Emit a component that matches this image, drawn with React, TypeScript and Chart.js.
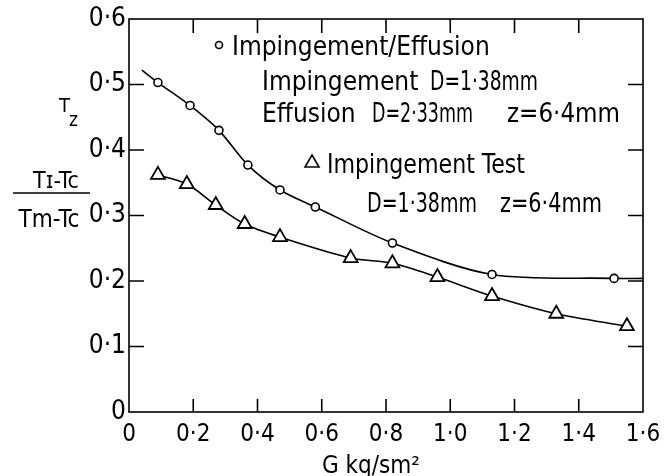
import React, { useEffect, useRef } from 'react';
import { Chart, registerables } from 'chart.js';

Chart.register(...registerables);

// ---- data ----
const xTicksMin = 0;
const xTicksMax = 1.6;
const xTickStep = 0.2;
const yTicksMin = 0;
const yTicksMax = 0.6;
const yTickStep = 0.1;

// Impingement/Effusion (circles); first and last entries are the drawn curve ends (no marker)
const effusionG = [0.04, 0.09, 0.19, 0.28, 0.37, 0.47, 0.58, 0.82, 1.13, 1.51, 1.6];
const effusionT = [0.522, 0.503, 0.468, 0.43, 0.377, 0.339, 0.313, 0.258, 0.21, 0.204, 0.204];
const effusionMarked = [false, true, true, true, true, true, true, true, true, true, false];

// Impingement Test (triangles)
const impingementG = [0.09, 0.18, 0.27, 0.36, 0.47, 0.69, 0.82, 0.96, 1.13, 1.33, 1.55];
const impingementT = [0.362, 0.348, 0.316, 0.287, 0.267, 0.235, 0.227, 0.206, 0.177, 0.15, 0.131];

const xTitle = 'G kq/sm²';
const legendCircleLabel = 'Impingement/Effusion';
const legendTriangleLabel = 'Impingement Test';

const FONT = '"DejaVu Sans Condensed", "Liberation Sans Narrow", "DejaVu Sans", sans-serif';

const fmt = (v: number) => (Math.abs(v) < 1e-9 ? '0' : v.toFixed(1).replace('.', '·'));

const paperPlugin = {
  id: 'paper',
  beforeDatasetsDraw(chart: any) {
    const { ctx, chartArea: a, scales } = chart;
    const xs = scales.x;
    const ys = scales.y;
    ctx.save();
    ctx.strokeStyle = '#000';
    ctx.lineWidth = 1.6;
    ctx.strokeRect(a.left, a.top, a.right - a.left, a.bottom - a.top);
    ctx.beginPath();
    xs.ticks.forEach((t: any) => {
      if (t.value <= xs.min + 1e-9 || t.value >= xs.max - 1e-9) return;
      const px = xs.getPixelForValue(t.value);
      ctx.moveTo(px, a.bottom);
      ctx.lineTo(px, a.bottom - 13);
      ctx.moveTo(px, a.top);
      ctx.lineTo(px, a.top + 14);
    });
    ys.ticks.forEach((t: any) => {
      if (t.value <= ys.min + 1e-9 || t.value >= ys.max - 1e-9) return;
      const py = ys.getPixelForValue(t.value);
      ctx.moveTo(a.left, py);
      ctx.lineTo(a.left + 15, py);
      ctx.moveTo(a.right, py);
      ctx.lineTo(a.right - 15, py);
    });
    ctx.stroke();
    ctx.restore();
  },
  afterDraw(chart: any) {
    const { ctx } = chart;
    ctx.save();
    ctx.fillStyle = '#000';
    ctx.strokeStyle = '#000';
    ctx.textBaseline = 'alphabetic';
    ctx.textAlign = 'left';
    const t = (s: string, x: number, y: number, size: number, w?: number) => {
      ctx.font = `${size}px ${FONT}`;
      if (w) ctx.fillText(s, x, y, w);
      else ctx.fillText(s, x, y);
    };
    // legend markers
    ctx.lineWidth = 1.6;
    ctx.beginPath();
    ctx.arc(219, 45, 3.5, 0, Math.PI * 2);
    ctx.stroke();
    ctx.beginPath();
    ctx.moveTo(312, 155);
    ctx.lineTo(319, 167);
    ctx.lineTo(305, 167);
    ctx.closePath();
    ctx.stroke();
    // annotation text
    t(legendCircleLabel, 232, 55, 26, 265);
    t('Impingement', 262, 90, 26, 166);
    t('D=1·38mm', 430, 90, 26, 108);
    t('Effusion', 262, 122, 26, 95);
    t('D=2·33mm', 372, 122, 26, 101);
    t('z=6·4mm', 507, 122, 26, 113);
    t(legendTriangleLabel, 327, 173, 26, 198);
    t('D=1·38mm', 367, 212, 26, 110);
    t('z=6·4mm', 500, 212, 26, 102);
    // y-axis title
    t('T', 59, 112, 20);
    t('z', 69, 126, 19);
    ctx.textAlign = 'center';
    t('Tɪ-Tc', 56, 188, 23, 67);
    t('Tm-Tc', 49, 227, 24, 67);
    ctx.lineWidth = 1.5;
    ctx.beginPath();
    ctx.moveTo(13, 193);
    ctx.lineTo(90, 193);
    ctx.stroke();
    // x-axis title
    ctx.textAlign = 'left';
    t(xTitle, 322, 473, 24, 110);
    ctx.restore();
  },
};

export default function App() {
  const ref = useRef<HTMLCanvasElement | null>(null);
  useEffect(() => {
    if (!ref.current) return;
    const chart = new Chart(ref.current, {
      type: 'scatter',
      data: {
        datasets: [
          {
            label: legendCircleLabel,
            data: effusionG.map((g, i) => ({ x: g, y: effusionT[i] })),
            showLine: true,
            borderColor: '#000',
            borderWidth: 1.6,
            tension: 0.3,
            pointStyle: 'circle',
            pointRadius: effusionMarked.map((m) => (m ? 4 : 0)),
            pointBorderWidth: 1.6,
            pointBorderColor: '#000',
            pointBackgroundColor: '#fff',
          },
          {
            label: legendTriangleLabel,
            data: impingementG.map((g, i) => ({ x: g, y: impingementT[i] })),
            showLine: true,
            borderColor: '#000',
            borderWidth: 1.6,
            tension: 0.3,
            pointStyle: 'triangle',
            pointRadius: 8,
            pointBorderWidth: 1.8,
            pointBorderColor: '#000',
            pointBackgroundColor: '#fff',
          },
        ],
      },
      options: {
        animation: false,
        responsive: false,
        devicePixelRatio: 1,
        layout: { padding: { top: 19, right: 26, bottom: 0, left: 0 } },
        plugins: { legend: { display: false }, tooltip: { enabled: false } },
        scales: {
          x: {
            type: 'linear',
            min: xTicksMin,
            max: xTicksMax,
            border: { display: false },
            grid: { display: false, drawTicks: false },
            ticks: {
              stepSize: xTickStep,
              autoSkip: false,
              maxRotation: 0,
              padding: 8,
              color: '#000',
              font: { family: FONT, size: 24 },
              callback: (v: any) => fmt(Number(v)),
            },
            afterFit: (s: any) => {
              s.height = 64;
            },
          },
          y: {
            type: 'linear',
            min: yTicksMin,
            max: yTicksMax,
            border: { display: false },
            grid: { display: false, drawTicks: false },
            ticks: {
              stepSize: yTickStep,
              padding: 3,
              color: '#000',
              font: { family: FONT, size: 26 },
              callback: (v: any) => fmt(Number(v)),
            },
            afterFit: (s: any) => {
              s.width = 129;
            },
          },
        },
      },
      plugins: [paperPlugin],
    } as any);
    return () => chart.destroy();
  }, []);
  return (
    <div style={{ position: 'fixed', left: 0, top: 0, width: 669, height: 476, background: '#fff' }}>
      <canvas ref={ref} width={669} height={476} style={{ display: 'block', width: 669, height: 476 }} />
    </div>
  );
}
